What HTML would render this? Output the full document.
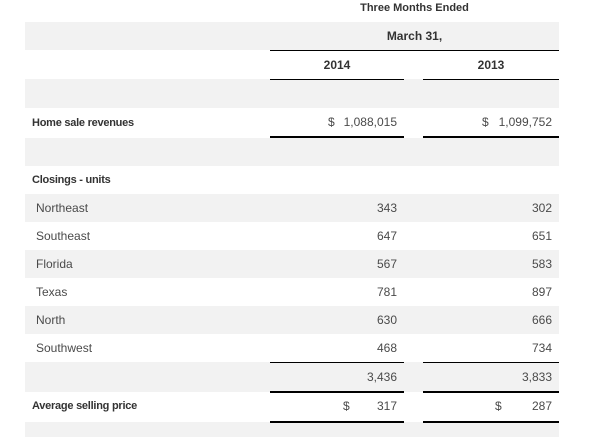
<!DOCTYPE html>
<html><head><meta charset="utf-8">
<style>
html,body{margin:0;padding:0;background:#fff;}
body{width:603px;height:437px;position:relative;overflow:hidden;font-family:"Liberation Sans",sans-serif;}
.g{position:absolute;left:25px;width:534px;background:#f2f2f2;}
.l{position:absolute;background:#000;}
.t{position:absolute;height:14px;line-height:14px;white-space:nowrap;}
.b{font-weight:bold;font-size:11px;color:#333;letter-spacing:-0.25px;}
.h{font-weight:bold;color:#333;}
.r{font-size:12px;color:#4a4a4a;}
.c1{left:270px;width:134px;text-align:center;}
.c2{left:423px;width:136px;text-align:center;}
.ch{left:270px;width:289px;text-align:center;}
.v1{right:206px;text-align:right;}
.v2{right:51px;text-align:right;}
</style></head><body>
<!-- gray bands -->
<div class="g" style="top:22px;height:28px"></div>
<div class="g" style="top:79px;height:29px"></div>
<div class="g" style="top:138px;height:28px"></div>
<div class="g" style="top:194px;height:28px"></div>
<div class="g" style="top:250px;height:28px"></div>
<div class="g" style="top:306px;height:28px"></div>
<div class="g" style="top:362px;height:30px"></div>
<div class="g" style="top:422px;height:15px"></div>

<!-- lines -->
<div class="l" style="left:270px;width:289px;top:50px;height:1px"></div>
<div class="l" style="left:270px;width:134px;top:79px;height:1px"></div>
<div class="l" style="left:423px;width:136px;top:79px;height:1px"></div>
<div class="l" style="left:270px;width:134px;top:136px;height:2px"></div>
<div class="l" style="left:423px;width:136px;top:136px;height:2px"></div>
<div class="l" style="left:270px;width:134px;top:362px;height:1px"></div>
<div class="l" style="left:423px;width:136px;top:362px;height:1px"></div>
<div class="l" style="left:270px;width:134px;top:391px;height:2px"></div>
<div class="l" style="left:423px;width:136px;top:391px;height:2px"></div>
<div class="l" style="left:270px;width:134px;top:421px;height:2px"></div>
<div class="l" style="left:423px;width:136px;top:421px;height:2px"></div>

<!-- headers -->
<div class="t h ch" style="top:1px;font-size:11px">Three Months Ended</div>
<div class="t h ch" style="top:29px;font-size:12px">March 31,</div>
<div class="t h c1" style="top:58px;font-size:12px">2014</div>
<div class="t h c2" style="top:58px;font-size:12px">2013</div>

<!-- labels -->
<div class="t b" style="left:32px;top:116px">Home sale revenues</div>
<div class="t b" style="left:32px;top:173px">Closings - units</div>
<div class="t r" style="left:36px;top:201px">Northeast</div>
<div class="t r" style="left:36px;top:229px">Southeast</div>
<div class="t r" style="left:36px;top:257px">Florida</div>
<div class="t r" style="left:36px;top:285px">Texas</div>
<div class="t r" style="left:36px;top:313px">North</div>
<div class="t r" style="left:36px;top:341px">Southwest</div>
<div class="t b" style="left:32px;top:399px">Average selling price</div>

<!-- values -->
<div class="t r" style="left:328px;top:115px">$</div>
<div class="t r v1" style="top:115px">1,088,015</div>
<div class="t r" style="left:482px;top:115px">$</div>
<div class="t r v2" style="top:115px">1,099,752</div>

<div class="t r v1" style="top:201px">343</div>
<div class="t r v2" style="top:201px">302</div>
<div class="t r v1" style="top:229px">647</div>
<div class="t r v2" style="top:229px">651</div>
<div class="t r v1" style="top:257px">567</div>
<div class="t r v2" style="top:257px">583</div>
<div class="t r v1" style="top:285px">781</div>
<div class="t r v2" style="top:285px">897</div>
<div class="t r v1" style="top:313px">630</div>
<div class="t r v2" style="top:313px">666</div>
<div class="t r v1" style="top:341px">468</div>
<div class="t r v2" style="top:341px">734</div>
<div class="t r v1" style="top:370px">3,436</div>
<div class="t r v2" style="top:370px">3,833</div>

<div class="t r" style="left:343px;top:399px">$</div>
<div class="t r v1" style="top:399px">317</div>
<div class="t r" style="left:495px;top:399px">$</div>
<div class="t r v2" style="top:399px">287</div>
</body></html>
